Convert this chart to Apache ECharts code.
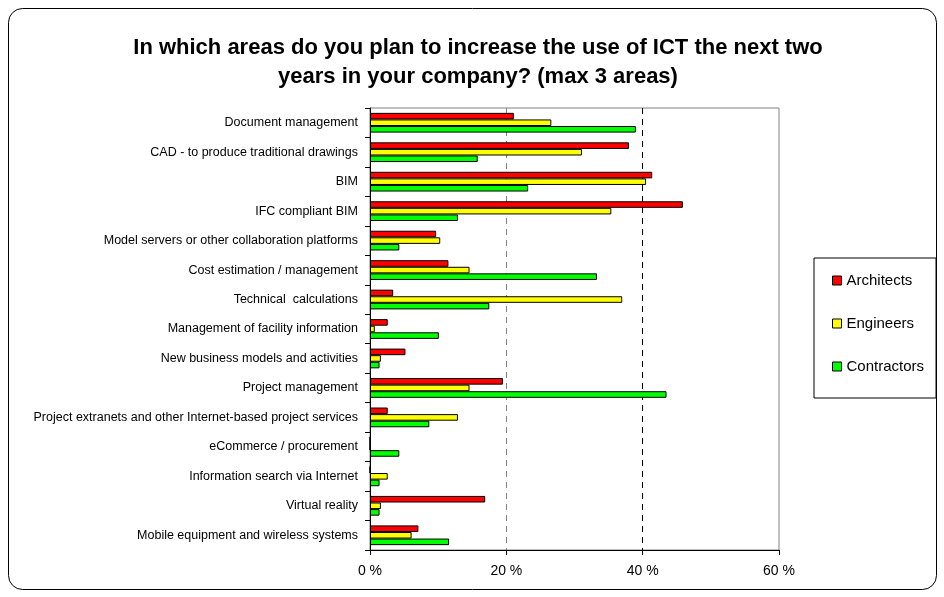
<!DOCTYPE html>
<html>
<head>
<meta charset="utf-8">
<script src="https://cdn.jsdelivr.net/npm/echarts@6/dist/echarts.min.js"></script>
<style>
  html, body { margin: 0; padding: 0; background: #fff; }
  #chart { width: 944px; height: 597px; }
</style>
</head>
<body>
<div id="chart"></div>
<script>
// categories, top to bottom
var categories = [
  'Document management',
  'CAD - to produce traditional drawings',
  'BIM',
  'IFC compliant BIM',
  'Model servers or other collaboration platforms',
  'Cost estimation / management',
  'Technical  calculations',
  'Management of facility information',
  'New business models and activities',
  'Project management',
  'Project extranets and other Internet-based project services',
  'eCommerce / procurement',
  'Information search via Internet',
  'Virtual reality',
  'Mobile equipment and wireless systems'
];

// percent values
var architects  = [21.1, 38.0, 41.4, 45.9, 9.7, 11.5, 3.4, 2.6, 5.2, 19.5, 2.6, 0, 0, 16.9, 7.1];
var engineers   = [26.6, 31.1, 40.5, 35.4, 10.3, 14.6, 37.0, 0.7, 1.6, 14.6, 12.9, 0, 2.6, 1.6, 6.1];
var contractors = [39.0, 15.8, 23.2, 12.9, 4.3, 33.3, 17.5, 10.1, 1.4, 43.5, 8.7, 4.3, 1.4, 1.4, 11.6];

var xTicks = [0, 20, 40, 60];

var chart = echarts.init(document.getElementById('chart'));

function barSeries(name, data, color) {
  return {
    name: name,
    type: 'bar',
    data: data,
    barGap: '0%',
    barCategoryGap: '33%',
    itemStyle: { color: color, borderColor: '#000', borderWidth: 1 },
    emphasis: { disabled: true }
  };
}

var option = {
  animation: false,
  textStyle: { fontFamily: 'Liberation Sans, Arial, sans-serif', color: '#000' },
  title: {
    text: 'In which areas do you plan to increase the use of ICT the next two\nyears in your company? (max 3 areas)',
    left: 473,
    textAlign: 'center',
    top: 28,
    textStyle: { fontSize: 22, fontWeight: 'bold', lineHeight: 29, color: '#000' }
  },
  legend: {
    orient: 'vertical',
    left: 814,
    top: 258,
    padding: [15, 12, 24, 18],
    itemGap: 28,
    itemWidth: 9,
    itemHeight: 9,
    itemStyle: { borderColor: '#000', borderWidth: 1 },
    borderColor: '#000',
    borderWidth: 1,
    icon: 'rect',
    textStyle: { fontSize: 15, color: '#000' },
    data: ['Architects', 'Engineers', 'Contractors']
  },
  graphic: [{
    type: 'rect',
    shape: { x: 8.5, y: 8.5, width: 928, height: 581, r: 14 },
    style: { fill: 'none', stroke: '#000', lineWidth: 1 },
    silent: true
  }],
  grid: {
    left: 370, right: 165, top: 108, bottom: 47,
    show: true, borderColor: '#808080', borderWidth: 1
  },
  xAxis: {
    type: 'value',
    min: 0, max: 60, interval: 20,
    axisLine: { show: true, lineStyle: { color: '#000' } },
    axisTick: { show: true, length: 5, lineStyle: { color: '#000' } },
    axisLabel: {
      fontSize: 14, color: '#000', margin: 14,
      formatter: function (v) { return xTicks.indexOf(v) >= 0 ? v + ' %' : ''; }
    },
    splitLine: {
      show: true,
      lineStyle: { color: ['#000', '#808080', '#000', 'rgba(0,0,0,0)'], type: [6, 5], width: 1 }
    }
  },
  yAxis: {
    type: 'category',
    inverse: true,
    data: categories,
    axisLine: { show: true, lineStyle: { color: '#000' } },
    axisTick: { show: true, length: 5, lineStyle: { color: '#000' } },
    axisLabel: { fontSize: 12.5, color: '#000', margin: 12 },
    splitLine: { show: false }
  },
  series: [
    barSeries('Architects', architects, '#ff0000'),
    barSeries('Engineers', engineers, '#ffff00'),
    barSeries('Contractors', contractors, '#00ff00')
  ]
};

chart.setOption(option);
</script>
</body>
</html>
